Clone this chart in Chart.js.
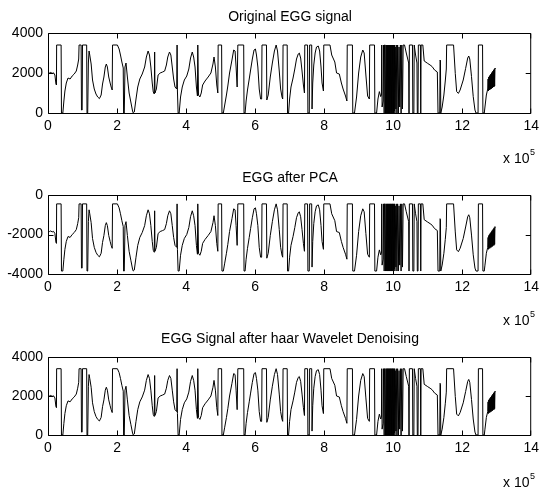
<!DOCTYPE html>
<html><head><meta charset="utf-8">
<script src="https://cdn.jsdelivr.net/npm/chart.js@4.4.1/dist/chart.umd.min.js"></script>
<style>
html,body{margin:0;padding:0;background:#fff;}
#wrap{position:relative;width:544px;height:489px;overflow:hidden;background:#fff;}
canvas{position:absolute;left:0;top:0;}
</style></head><body>
<div id="wrap">
<canvas id="c1" width="544" height="489"></canvas>
<canvas id="c2" width="544" height="489"></canvas>
<canvas id="c3" width="544" height="489"></canvas>
</div>
<script>
// sample index (x 10^5)
const sampleX = [
0.00,0.04,0.08,0.12,0.16,0.20,0.23,0.245,0.25,0.38,
0.39,0.43,0.46,0.49,0.53,0.58,0.64,0.70,0.76,0.82,
0.86,0.89,0.90,0.96,0.97,0.99,1.00,1.12,1.13,1.15,
1.17,1.19,1.21,1.25,1.29,1.34,1.39,1.44,1.49,1.54,
1.58,1.62,1.66,1.69,1.72,1.76,1.80,1.83,1.86,1.87,
2.01,2.06,2.10,2.14,2.18,2.19,2.21,2.23,2.26,2.30,
2.35,2.40,2.45,2.47,2.50,2.55,2.60,2.66,2.73,2.80,
2.85,2.90,2.94,2.98,3.02,3.05,3.08,3.09,3.10,3.14,
3.19,3.25,3.32,3.38,3.43,3.47,3.52,3.56,3.60,3.64,
3.68,3.73,3.74,3.75,3.77,3.80,3.84,3.89,3.95,4.02,
4.08,4.13,4.18,4.22,4.26,4.30,4.33,4.34,4.36,4.40,
4.44,4.48,4.55,4.64,4.72,4.78,4.81,4.85,4.89,4.92,
4.93,5.03,5.04,5.08,5.12,5.17,5.21,5.26,5.33,5.38,
5.42,5.45,5.48,5.50,5.67,5.68,5.71,5.74,5.78,5.83,
5.87,5.92,5.97,6.01,6.04,6.08,6.12,6.16,6.19,6.20,
6.33,6.34,6.38,6.44,6.50,6.56,6.61,6.65,6.70,6.74,
6.78,6.80,6.81,6.93,6.94,6.97,7.00,7.04,7.10,7.15,
7.20,7.25,7.28,7.32,7.36,7.40,7.43,7.44,7.52,7.53,
7.57,7.58,7.64,7.65,7.67,7.70,7.74,7.78,7.83,7.87,
7.91,7.94,7.98,7.99,8.17,8.22,8.31,8.36,8.44,8.50,
8.55,8.62,8.66,8.67,8.82,8.83,8.88,8.94,9.00,9.06,
9.12,9.16,9.21,9.26,9.31,9.32,9.46,9.47,9.52,9.56,
9.60,9.64,9.66,9.67,9.68,9.71,9.72,9.74,9.75,9.77,
9.78,9.80,9.81,9.82,9.83,9.84,9.85,9.86,9.87,9.88,
9.89,9.90,9.91,9.92,9.93,9.94,9.95,9.96,9.97,9.98,
9.99,10.00,10.01,10.02,10.03,10.04,10.05,10.06,10.08,10.09,
10.11,10.13,10.15,10.17,10.19,10.21,10.23,10.25,10.27,10.29,
10.33,10.38,10.45,10.46,10.47,10.56,10.57,10.60,10.61,10.65,
10.69,10.70,10.72,10.73,10.79,10.80,10.81,10.86,10.90,11.00,
11.07,11.13,11.20,11.28,11.30,11.35,11.36,11.37,11.38,11.42,
11.47,11.51,11.54,11.55,11.75,11.80,11.84,11.89,11.94,12.03,
12.10,12.16,12.19,12.22,12.27,12.32,12.37,12.40,12.46,12.47,
12.59,12.60,12.64,12.66,12.70,12.74,12.75,12.76,12.77,12.78,
12.79,12.80,12.81,12.82,12.83,12.84,12.85,12.86,12.87,12.88,
12.89,12.90,12.91,12.92,12.93,12.94,12.95,12.96
];
const originalY = [
2050,2000,2030,1980,2010,1900,1450,1400,3400,3400,
0,0,600,1100,1500,1750,1700,1850,1950,2100,
2400,2700,3400,3400,150,150,3400,3400,0,0,
2500,3100,2900,2450,1650,1200,950,800,720,900,
1450,1800,2300,2450,2300,1800,1500,1300,1150,3400,
3400,3200,2900,2550,2250,0,0,2300,2500,1800,
1000,550,100,0,50,700,1300,1700,1950,2300,
2800,3100,2900,2300,1500,1050,950,3050,1000,1200,
1900,2000,2050,2100,2400,2800,3050,2900,2300,1700,
1300,1200,3400,1100,0,0,800,1300,1650,1850,
2200,2750,3050,2800,2300,1300,850,3400,900,800,
1000,1400,1600,1800,2000,2450,2800,2300,1400,1000,
3400,3400,0,0,400,900,1350,2000,2650,3150,
3100,2300,1300,3400,3400,0,0,600,1150,1700,
2150,2700,3150,3200,2900,2300,1200,700,700,3400,
3400,650,900,1800,2500,3100,3400,3100,2100,1200,
800,700,3400,3400,0,0,700,1300,1750,2200,
2700,2950,3000,2750,2100,1400,1000,3400,3400,0,
0,3400,3400,200,1500,2400,3000,3300,3350,3100,
2300,1500,1100,3400,3400,2900,2550,2000,1950,1500,
1200,850,600,3400,3400,0,0,800,2000,2800,
3150,3000,1900,850,700,3400,3400,0,0,700,
1070,820,900,3400,300,600,3400,0,3400,3400,
0,3400,0,3400,0,3400,0,3400,0,3400,
0,3400,0,3400,0,3400,0,3400,0,3400,
0,3400,0,3400,100,3400,0,3300,200,3400,
0,3400,0,3300,300,3400,0,3400,200,3400,
3400,3000,2500,0,3400,3400,0,0,3400,2900,
2500,0,0,3400,3400,0,3400,3400,2600,2480,
2400,2320,2150,2050,0,0,2650,2600,0,300,
900,1600,2200,3400,3400,1980,1070,980,1150,1650,
2230,2750,2850,2700,1820,820,150,0,0,3400,
3400,0,0,300,900,1200,1700,1100,1800,1150,
1850,1150,1900,1200,1950,1200,2000,1250,2050,1250,
2100,1300,2150,1300,2200,1350,2250,2200
];
const pcaY = [
-1800,-1850,-1820,-1870,-1840,-1950,-2400,-2450,-450,-450,
-3850,-3850,-3250,-2750,-2350,-2100,-2150,-2000,-1900,-1750,
-1450,-1150,-450,-450,-3700,-3700,-450,-450,-3850,-3850,
-1350,-750,-950,-1400,-2200,-2650,-2900,-3050,-3130,-2950,
-2400,-2050,-1550,-1400,-1550,-2050,-2350,-2550,-2700,-450,
-450,-650,-950,-1300,-1600,-3850,-3850,-1550,-1350,-2050,
-2850,-3300,-3750,-3850,-3800,-3150,-2550,-2150,-1900,-1550,
-1050,-750,-950,-1550,-2350,-2800,-2900,-800,-2850,-2650,
-1950,-1850,-1800,-1750,-1450,-1050,-800,-950,-1550,-2150,
-2550,-2650,-450,-2750,-3850,-3850,-3050,-2550,-2200,-2000,
-1650,-1100,-800,-1050,-1550,-2550,-3000,-450,-2950,-3050,
-2850,-2450,-2250,-2050,-1850,-1400,-1050,-1550,-2450,-2850,
-450,-450,-3850,-3850,-3450,-2950,-2500,-1850,-1200,-700,
-750,-1550,-2550,-450,-450,-3850,-3850,-3250,-2700,-2150,
-1700,-1150,-700,-650,-950,-1550,-2650,-3150,-3150,-450,
-450,-3200,-2950,-2050,-1350,-750,-450,-750,-1750,-2650,
-3050,-3150,-450,-450,-3850,-3850,-3150,-2550,-2100,-1650,
-1150,-900,-850,-1100,-1750,-2450,-2850,-450,-450,-3850,
-3850,-450,-450,-3650,-2350,-1450,-850,-550,-500,-750,
-1550,-2350,-2750,-450,-450,-950,-1300,-1850,-1900,-2350,
-2650,-3000,-3250,-450,-450,-3850,-3850,-3050,-1850,-1050,
-700,-850,-1950,-3000,-3150,-450,-450,-3850,-3850,-3150,
-2780,-3030,-2950,-450,-3550,-3250,-450,-3850,-450,-450,
-3850,-450,-3850,-450,-3850,-450,-3850,-450,-3850,-450,
-3850,-450,-3850,-450,-3850,-450,-3850,-450,-3850,-450,
-3850,-450,-3850,-450,-3750,-450,-3850,-550,-3650,-450,
-3850,-450,-3850,-550,-3550,-450,-3850,-450,-3650,-450,
-450,-850,-1350,-3850,-450,-450,-3850,-3850,-450,-950,
-1350,-3850,-3850,-450,-450,-3850,-450,-450,-1250,-1370,
-1450,-1530,-1700,-1800,-3850,-3850,-1200,-1250,-3850,-3550,
-2950,-2250,-1650,-450,-450,-1870,-2780,-2870,-2700,-2200,
-1620,-1100,-1000,-1150,-2030,-3030,-3700,-3850,-3850,-450,
-450,-3850,-3850,-3550,-2950,-2650,-2150,-2750,-2050,-2700,
-2000,-2700,-1950,-2650,-1900,-2650,-1850,-2600,-1800,-2600,
-1750,-2550,-1700,-2550,-1650,-2500,-1600,-1650
];
const denoisedY = [
2050,2000,2030,1980,2010,1900,1450,1400,3400,3400,
0,0,600,1100,1500,1750,1700,1850,1950,2100,
2400,2700,3400,3400,150,150,3400,3400,0,0,
2500,3100,2900,2450,1650,1200,950,800,720,900,
1450,1800,2300,2450,2300,1800,1500,1300,1150,3400,
3400,3200,2900,2550,2250,0,0,2300,2500,1800,
1000,550,100,0,50,700,1300,1700,1950,2300,
2800,3100,2900,2300,1500,1050,950,3050,1000,1200,
1900,2000,2050,2100,2400,2800,3050,2900,2300,1700,
1300,1200,3400,1100,0,0,800,1300,1650,1850,
2200,2750,3050,2800,2300,1300,850,3400,900,800,
1000,1400,1600,1800,2000,2450,2800,2300,1400,1000,
3400,3400,0,0,400,900,1350,2000,2650,3150,
3100,2300,1300,3400,3400,0,0,600,1150,1700,
2150,2700,3150,3200,2900,2300,1200,700,700,3400,
3400,650,900,1800,2500,3100,3400,3100,2100,1200,
800,700,3400,3400,0,0,700,1300,1750,2200,
2700,2950,3000,2750,2100,1400,1000,3400,3400,0,
0,3400,3400,200,1500,2400,3000,3300,3350,3100,
2300,1500,1100,3400,3400,2900,2550,2000,1950,1500,
1200,850,600,3400,3400,0,0,800,2000,2800,
3150,3000,1900,850,700,3400,3400,0,0,700,
1070,820,900,3400,300,600,3400,0,3400,3400,
0,3400,0,3400,0,3400,0,3400,0,3400,
0,3400,0,3400,0,3400,0,3400,0,3400,
0,3400,0,3400,100,3400,0,3300,200,3400,
0,3400,0,3300,300,3400,0,3400,200,3400,
3400,3000,2500,0,3400,3400,0,0,3400,2900,
2500,0,0,3400,3400,0,3400,3400,2600,2480,
2400,2320,2150,2050,0,0,2650,2600,0,300,
900,1600,2200,3400,3400,1980,1070,980,1150,1650,
2230,2750,2850,2700,1820,820,150,0,0,3400,
3400,0,0,300,900,1200,1700,1100,1800,1150,
1850,1150,1900,1200,1950,1200,2000,1250,2050,1250,
2100,1300,2150,1300,2200,1350,2250,2200
];
const xTicks = [0,2,4,6,8,10,12,14];
const yTicksPos = [0,2000,4000];
const yTicksNeg = [-4000,-2000,0];
const plotTitles = ['Original EGG signal','EGG after PCA','EGG Signal after haar Wavelet Denoising'];

const FONT = '"Liberation Sans", Arial, Helvetica, sans-serif';
const H = 489;

const matlabAxes = {
  id: 'matlabAxes',
  afterDraw(chart, args, o) {
    const {ctx, chartArea: a, scales: {x, y}} = chart;
    ctx.save();
    ctx.strokeStyle = '#000';
    ctx.lineWidth = 1;
    const L = a.left + 0.5, R = a.right - 0.5, T = a.top + 0.5, B = a.bottom + 0.5;
    ctx.beginPath();
    ctx.rect(L, T, R - L, B - T);
    ctx.stroke();
    ctx.beginPath();
    x.ticks.forEach(t => {
      let px = Math.round(x.getPixelForValue(t.value)) + 0.5;
      px = Math.min(Math.max(px, L), R);
      ctx.moveTo(px, B); ctx.lineTo(px, B - 5);
      ctx.moveTo(px, T); ctx.lineTo(px, T + 5);
    });
    y.ticks.forEach(t => {
      let py = Math.round(y.getPixelForValue(t.value)) + 0.5;
      py = Math.min(Math.max(py, T), B);
      ctx.moveTo(L, py); ctx.lineTo(L + 5, py);
      ctx.moveTo(R, py); ctx.lineTo(R - 5, py);
    });
    ctx.stroke();
    ctx.fillStyle = '#000';
    ctx.textBaseline = 'alphabetic';
    ctx.font = '14px ' + FONT;
    ctx.textAlign = 'center';
    ctx.fillText(o.title, 290, o.titleY);
    ctx.textAlign = 'left';
    ctx.fillText('x 10', 503, o.expY);
    ctx.font = '9px ' + FONT;
    ctx.fillText('5', 530, o.expY - 8);
    ctx.restore();
  }
};

function makePlot(id, ys, yMin, yMax, yTicks, top, bottom, title, titleY, expY) {
  return new Chart(document.getElementById(id), {
    type: 'line',
    data: {
      datasets: [{
        data: sampleX.map((x, i) => ({x: x, y: ys[i]})),
        borderColor: '#000',
        borderWidth: 1,
        borderDash: [10000, 0],
        pointRadius: 0,
        tension: 0,
        fill: false
      }]
    },
    options: {
      responsive: false,
      animation: false,
      devicePixelRatio: 1,
      events: [],
      layout: {padding: {left: 0, right: 7, top: top, bottom: H - bottom - 30}},
      scales: {
        x: {
          type: 'linear', min: 0, max: 14,
          afterBuildTicks: s => { s.ticks = xTicks.map(v => ({value: v})); },
          afterFit: s => { s.height = 30; },
          grid: {display: false, drawTicks: false},
          border: {display: false},
          ticks: {padding: 5, color: '#000', font: {family: FONT, size: 14}, maxRotation: 0, autoSkip: false, callback: v => String(v)}
        },
        y: {
          type: 'linear', min: yMin, max: yMax,
          afterBuildTicks: s => { s.ticks = yTicks.map(v => ({value: v})); },
          afterFit: s => { s.width = 48; },
          grid: {display: false, drawTicks: false},
          border: {display: false},
          ticks: {padding: 5, color: '#000', font: {family: FONT, size: 14}, autoSkip: false, callback: v => String(v)}
        }
      },
      plugins: {
        legend: {display: false},
        tooltip: {enabled: false},
        matlabAxes: {title: title, titleY: titleY, expY: expY}
      }
    },
    plugins: [matlabAxes]
  });
}

makePlot('c1', originalY, 0, 4000, yTicksPos, 33, 113, plotTitles[0], 21, 163);
makePlot('c2', pcaY, -4000, 0, yTicksNeg, 195, 274, plotTitles[1], 182, 325);
makePlot('c3', denoisedY, 0, 4000, yTicksPos, 357, 435, plotTitles[2], 343, 487);
</script>
</body></html>
